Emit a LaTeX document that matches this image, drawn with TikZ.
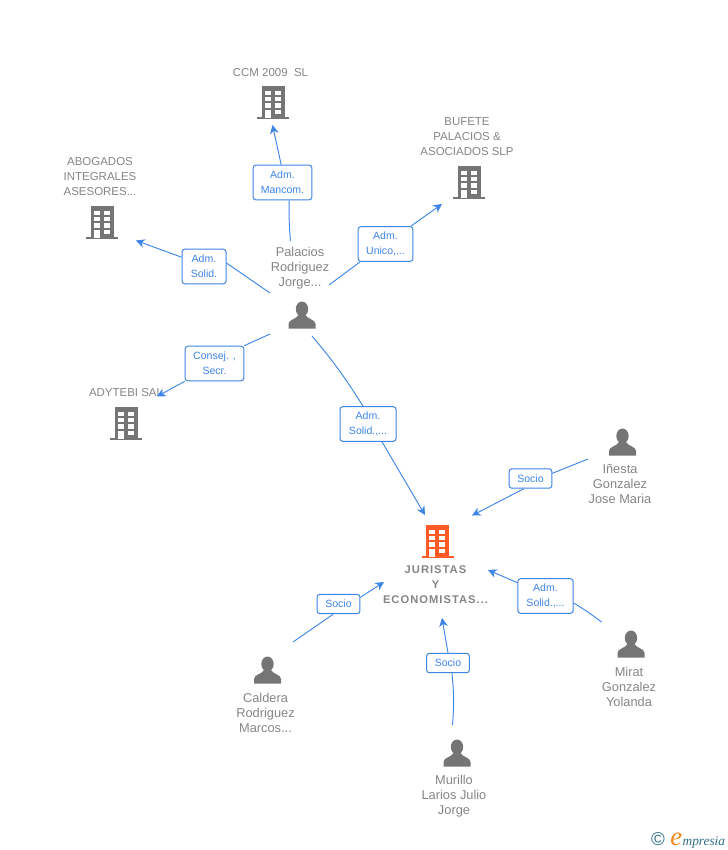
\documentclass[tikz,border=0pt]{standalone}
\usepackage{fontspec}
\setmainfont{Liberation Sans}
\newfontfamily\logofont{Liberation Serif}
\newfontfamily\spacedfont[LetterSpace=9]{Liberation Sans}
\usetikzlibrary{arrows.meta, positioning}
\definecolor{iconGray}{HTML}{757575}
\definecolor{nameGray}{HTML}{858585}
\definecolor{linkBlue}{HTML}{3D85E6}
\definecolor{iconOrange}{HTML}{FF5B26}
\definecolor{logoTeal}{HTML}{2F6F85}
\definecolor{logoOrange}{HTML}{F08A1D}
\tikzset{
  pics/building/.style={code={
    \fill[#1] (-11.5,-16) rectangle (11.5,16);
    \fill[#1] (-16,15) rectangle (16,17);
    \foreach \wy in {-11.5,-5.5,1.1} {
      \fill[white] (-8.5,\wy) rectangle (-2.3,\wy+4.4);
      \fill[white] (1.7,\wy) rectangle (7.9,\wy+4.4);
    }
    \fill[white] (-8.5,7.5) rectangle (-2.3,15.5);
    \fill[white] (1.7,7.5) rectangle (7.9,12.2);
  }},
  pics/building/.default=iconGray,
  pics/person/.style={code={
    \fill[iconGray] (0,-6) ellipse (6.2 and 7.5);
    \fill[iconGray] (-13.5,13.5) -- (-13.5,9) .. controls (-13.5,4.5) and (-6,4.5) .. (-3.5,0)
      -- (3.5,0) .. controls (6,4.5) and (13.5,4.5) .. (13.5,9) -- (13.5,13.5) -- cycle;
  }}
}

\begin{document}
\begin{tikzpicture}[
    x=0.75pt, y=-0.75pt,
    every node/.style={inner sep=0pt},
    firmtxt/.style={align=center, text=nameGray, font=\fontsize{8.6pt}{11.25pt}\selectfont},
    persontxt/.style={align=center, text=nameGray, font=\fontsize{9.6pt}{11.25pt}\selectfont},
    lbl/.style={draw=linkBlue, fill=white, rounded corners=2pt, line width=0.75pt, align=center,
      text=linkBlue, minimum height=26pt, font=\fontsize{7.9pt}{11.25pt}\selectfont},
    socio/.style={lbl, minimum width=32pt, minimum height=14.6pt},
    link/.style={draw=linkBlue, line width=0.7pt},
    arrow/.style={link, -{Stealth[length=6.5pt, width=6.5pt, inset=2pt]}}
]
\useasboundingbox (0,0) rectangle (728,850);

% Icons
\pic at (273,102) {building};
\pic at (102,222) {building};
\pic at (469,182) {building};
\pic at (126,423) {building};
\pic at (437.5,541) {building=iconOrange};
\pic at (302,315) {person};
\pic at (622.5,442) {person};
\pic at (631,644) {person};
\pic at (267.5,670) {person};
\pic at (457,753) {person};

% Names
\node[firmtxt] (ccm) at (270.5,72.8) {CCM 2009\ \ SL};
\node[firmtxt] (abogados) at (100,176.8) {ABOGADOS\\INTEGRALES\\ASESORES...};
\node[firmtxt] (bufete) at (467,136.8) {BUFETE\\PALACIOS \&\\ASOCIADOS SLP};
\node[persontxt] (palacios) at (300,267.8) {Palacios\\Rodriguez\\Jorge...};
\node[firmtxt] (adytebi) at (126,392.8) {ADYTEBI SAL};
\node[persontxt] (inesta) at (620,484) {Iñesta\\Gonzalez\\Jose Maria};
\node[persontxt] (mirat) at (629,687) {Mirat\\Gonzalez\\Yolanda};
\node[persontxt] (caldera) at (265.5,713) {Caldera\\Rodriguez\\Marcos...};
\node[persontxt] (murillo) at (454,796.5) {Murillo\\Larios Julio\\Jorge};
\node[firmtxt, font=\spacedfont\bfseries\fontsize{8.4pt}{11.25pt}\selectfont] (juristas) at (435.5,585) {JURISTAS\\Y\\ECONOMISTAS...};

% Free ends
\coordinate (ccmTip) at (272.5,125);
\coordinate (abogadosTip) at (136,240.5);
\coordinate (bufeteTip) at (442,204);
\coordinate (adytebiTip) at (157,396.5);
\coordinate (juristasTop) at (425,515);
\coordinate (juristasRight) at (472,515.5);
\coordinate (juristasSide) at (488,570);
\coordinate (juristasBottom) at (442,618);
\coordinate (juristasLeft) at (384,582);
\coordinate (fromCcm) at (290.5,241);
\coordinate (fromAbogados) at (270,293);
\coordinate (fromBufete) at (329,285);
\coordinate (fromAdytebi) at (270,334);
\coordinate (fromJuristas) at (312,336);
\coordinate (fromInesta) at (588,459);
\coordinate (fromMirat) at (601.5,622);
\coordinate (fromMurillo) at (452.5,725);
\coordinate (fromCaldera) at (293,642);

% Labels
\node[lbl, minimum width=44pt] (mancom) at (282.5,182.5) {Adm.\\Mancom.};
\node[lbl, minimum width=33pt] (solid) at (204,266.5) {Adm.\\Solid.};
\node[lbl, minimum width=41pt] (unico) at (385.5,244) {Adm.\\Unico,...};
\node[lbl, minimum width=44pt] (consej) at (214.5,363.5) {Consej. ,\\Secr.};
\node[lbl, minimum width=42pt] (solidBig) at (368,424) {Adm.\\Solid.,...};
\node[socio] (socioA) at (530.5,478.5) {Socio};
\node[lbl, minimum width=41.5pt] (solidMirat) at (545.5,596) {Adm.\\Solid.,...};
\node[socio] (socioB) at (448,663) {Socio};
\node[socio] (socioC) at (338.5,604) {Socio};

% Arrows
\draw[link] (fromCcm) to[bend left=3] ([xshift=5pt]mancom.south);
\draw[arrow] ([xshift=-1pt]mancom.north) -- (ccmTip);
\draw[link] (fromAbogados) -- ([yshift=2.6pt]solid.east);
\draw[arrow] ([yshift=7pt]solid.west) -- (abogadosTip);
\draw[link] (fromBufete) -- ([xshift=-19pt]unico.south);
\draw[arrow] ([xshift=19pt]unico.north) -- (bufeteTip);
\draw[link] (fromAdytebi) -- (consej.north east);
\draw[arrow] (consej.south west) -- (adytebiTip);
\draw[link] (fromJuristas) to[bend left=4] ([xshift=-3.75pt]solidBig.north);
\draw[arrow] ([xshift=10.5pt]solidBig.south) -- (juristasTop);
\draw[link] (fromInesta) -- ([yshift=3.9pt]socioA.east);
\draw[arrow] ([xshift=-5pt]socioA.south) -- (juristasRight);
\draw[link] (fromMirat) to[bend right=3] ([yshift=-5.25pt]solidMirat.east);
\draw[arrow] ([yshift=10pt]solidMirat.west) -- (juristasSide);
\draw[link] (fromMurillo) to[bend right=5] ([xshift=3pt]socioB.south);
\draw[arrow] (socioB.north) -- (juristasBottom);
\draw[link] (fromCaldera) -- ([xshift=-4pt]socioC.south);
\draw[arrow] ([yshift=5pt]socioC.east) -- (juristasLeft);

% Logo
\node[text=logoTeal, font=\fontsize{14pt}{14pt}\selectfont] (copyLogo) at (658,839) {©};
\node[anchor=base west, text=logoOrange, font=\logofont\itshape\fontsize{20pt}{20pt}\selectfont] (eLogo) at (670,845) {e};
\node[anchor=base west, text=logoTeal, font=\logofont\itshape\fontsize{10pt}{10pt}\selectfont] (wordLogo) at (eLogo.base east) {mpresia};

\end{tikzpicture}
\end{document}
